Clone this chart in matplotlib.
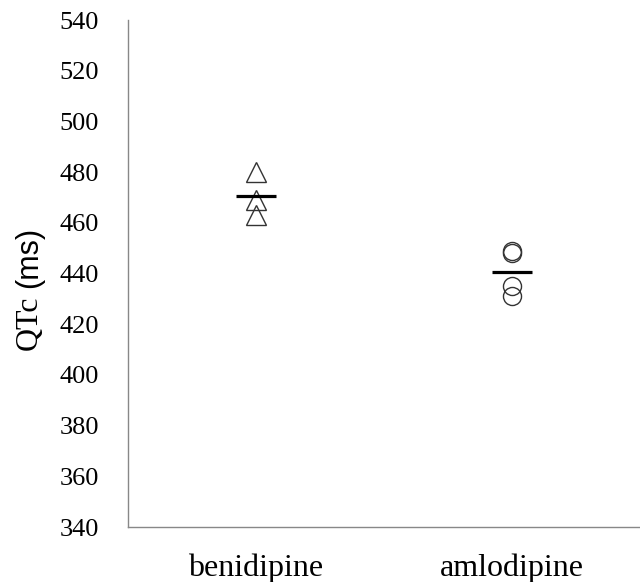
import numpy as np
import matplotlib
matplotlib.use("Agg")
import matplotlib.pyplot as plt

# QTc values
groups = ["benidipine", "amlodipine"]
benidipine_qtc = [480, 469, 463]
amlodipine_qtc = [449, 448, 435, 431]
yticks = np.arange(340, 541, 20)

W, H = 640, 582
fig = plt.figure(figsize=(W / 100, H / 100), dpi=100)
ax = fig.add_axes([0.2, 0.0945, 0.8, 0.8711])

ax.plot([1] * len(benidipine_qtc), benidipine_qtc, linestyle="none", marker="^",
        markersize=14.5, markerfacecolor="none", markeredgecolor="#333333", markeredgewidth=1.0)
ax.plot([2] * len(amlodipine_qtc), amlodipine_qtc, linestyle="none", marker="o",
        markersize=13, markerfacecolor="none", markeredgecolor="#333333", markeredgewidth=1.0)

for x, vals in zip([1, 2], [benidipine_qtc, amlodipine_qtc]):
    ax.hlines(np.mean(vals), x - 0.08, x + 0.08, color="black", linewidth=2.3)

ax.set_xlim(0.5, 2.5)
ax.set_ylim(340, 540)
ax.set_yticks(yticks)
ax.set_yticklabels([str(v) for v in yticks], fontfamily="Liberation Serif", fontsize=19)
ax.set_xticks([1, 2])
ax.set_xticklabels(groups, fontfamily="Liberation Serif", fontsize=23)
ax.tick_params(axis="y", length=0, pad=21)
ax.tick_params(axis="x", length=0, pad=19)

ax.spines["top"].set_visible(False)
ax.spines["right"].set_visible(False)
for s in ["left", "bottom"]:
    ax.spines[s].set_color("#888888")
    ax.spines[s].set_linewidth(1.0)

# y label: "QTc" in serif, "(ms)" in sans, as in the original
t1 = fig.text(37 / W, 1 - 350 / H, "QTc", fontfamily="Liberation Serif", fontsize=23,
              rotation=90, rotation_mode="anchor", ha="left", va="baseline")
fig.canvas.draw()
bb = t1.get_window_extent()
fig.text(37 / W, (bb.y1 + 7) / H, "(ms)", fontfamily="Liberation Sans", fontsize=22,
         rotation=90, rotation_mode="anchor", ha="left", va="baseline")

fig.savefig("out.png", dpi=100)
